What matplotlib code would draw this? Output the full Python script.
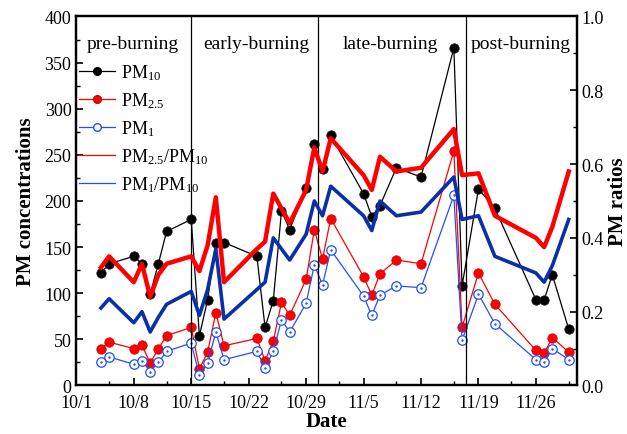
import matplotlib
matplotlib.use("Agg")
from matplotlib import pyplot as plt
from matplotlib.lines import Line2D
from matplotlib.ticker import MultipleLocator, FuncFormatter
import pandas as pd

plt.rcParams['font.family'] = ['Liberation Serif', 'DejaVu Serif']
plt.rcParams['mathtext.default'] = 'regular'

# sampling dates (month/day)
dates = ['10/4', '10/5', '10/8', '10/9', '10/10', '10/11', '10/12', '10/15', '10/16',
         '10/17', '10/18', '10/19', '10/23', '10/24', '10/25', '10/26', '10/27', '10/29',
         '10/30', '10/31', '11/1', '11/5', '11/6', '11/7', '11/9', '11/12', '11/16',
         '11/17', '11/19', '11/21', '11/26', '11/27', '11/28', '11/30']

pm10 = [122, 132, 140, 132, 99, 132, 167, 180, 54, 93, 155, 155, 140, 63, 92, 189, 169,
        214, 262, 235, 271, 208, 183, 195, 236, 226, 366, 108, 213, 192, 93, 93, 120, 61]
pm25 = [40, 47, 40, 44, 24, 40, 54, 63, 18, 36, 79, 43, 51, 27, 48, 90, 76,
        115, 169, 137, 181, 118, 98, 121, 136, 132, 254, 63, 122, 88, 38, 35, 52, 36]
pm1 = [26, 31, 23, 27, 15, 25, 37, 46, 11, 24, 58, 28, 37, 19, 37, 71, 58,
       89, 131, 109, 147, 97, 76, 98, 108, 106, 206, 49, 99, 67, 28, 26, 40, 28]
ratio25 = [0.32, 0.35, 0.28, 0.33, 0.24, 0.30, 0.33, 0.35, 0.31, 0.38, 0.51, 0.28, 0.37,
           0.39, 0.52, 0.48, 0.44, 0.53, 0.645, 0.58, 0.67, 0.57, 0.53, 0.62, 0.58, 0.59,
           0.695, 0.57, 0.575, 0.46, 0.40, 0.375, 0.43, 0.58]
ratio1 = [0.21, 0.235, 0.17, 0.20, 0.145, 0.185, 0.22, 0.255, 0.19, 0.26, 0.37, 0.18, 0.26,
          0.28, 0.40, 0.37, 0.34, 0.41, 0.50, 0.46, 0.54, 0.46, 0.42, 0.50, 0.46, 0.47,
          0.565, 0.45, 0.46, 0.35, 0.305, 0.28, 0.325, 0.45]

phase_names = ['pre-burning', 'early-burning', 'late-burning', 'post-burning']
phase_bounds = ['2014-10-15', '2014-10-30 12:00', '2014-11-17 12:00']

x = pd.to_datetime(['2014/' + d for d in dates])
start = pd.Timestamp('2014-10-01')
end = pd.Timestamp('2014-12-01')

fig = plt.figure(figsize=(6.27, 4.35), dpi=100)
ax = fig.add_axes([0.1217, 0.1115, 0.7985, 0.8483])
ax2 = ax.twinx()

ax.plot(x, pm10, '-o', color='black', lw=0.9, ms=6.8, mfc='black', mec='#222222', mew=0.5)
ax.plot(x, pm25, '-o', color='red', lw=0.9, ms=6.8, mfc='red', mec='#d00000', mew=0.5)
ax.plot(x, pm1, '-o', color='#1f4fff', lw=0.9, ms=6.8, mfc='white', mec='#1f4fff', mew=0.9)
ax.plot(x, pm1, '.', color='#1f4fff', ms=1.5)

ax2.plot(x, ratio25, '-', color='red', lw=3.2)
ax2.plot(x, ratio1, '-', color='#0a2fa8', lw=2.6)

for b in phase_bounds:
    ax.axvline(pd.Timestamp(b), color='black', lw=0.9)

phase_x = [start + pd.Timedelta(days=d) for d in [6.9, 21.9, 38.3, 54.1]]
for px, name in zip(phase_x, phase_names):
    ax.text(px, 371, name, ha='center', va='center', fontsize=14)

ax.set_xlim(start, end)
ax.set_ylim(0, 400)
ax2.set_ylim(0, 1.0)

ax.set_xticks(pd.date_range(start, periods=9, freq='7D'))
ax.set_xticks(pd.date_range(start + pd.Timedelta(days=4), periods=9, freq='7D'), minor=True)
ax.xaxis.set_major_formatter(FuncFormatter(
    lambda v, pos: '%d/%d' % (matplotlib.dates.num2date(v).month, matplotlib.dates.num2date(v).day)))
ax.yaxis.set_major_locator(MultipleLocator(50))
ax.yaxis.set_minor_locator(MultipleLocator(25))
ax2.yaxis.set_major_locator(MultipleLocator(0.2))
ax2.yaxis.set_minor_locator(MultipleLocator(0.1))
ax2.yaxis.set_major_formatter(FuncFormatter(lambda v, pos: '%.1f' % v))

for a in (ax, ax2):
    a.tick_params(which='both', direction='in', labelsize=13, top=False)
    a.tick_params(which='major', length=5, width=1.2)
    a.tick_params(which='minor', length=3, width=1.0)
    for s in a.spines.values():
        s.set_linewidth(1.6)
ax.tick_params(axis='y', which='both', right=False)
ax.tick_params(axis='x', pad=6)

ax.set_xlabel('Date', fontsize=15, fontweight='bold', labelpad=0)
ax.set_ylabel('PM concentrations', fontsize=15, fontweight='bold', labelpad=6)
ax2.set_ylabel('PM ratios', fontsize=15, fontweight='bold', labelpad=3)

handles = [
    Line2D([], [], color='black', lw=0.9, marker='o', ms=5.5, mfc='black', mec='black'),
    Line2D([], [], color='red', lw=0.9, marker='o', ms=5.5, mfc='red', mec='#d00000'),
    Line2D([], [], color='#1f4fff', lw=0.9, marker='o', ms=5.5, mfc='white', mec='#1f4fff'),
    Line2D([], [], color='red', lw=0.9),
    Line2D([], [], color='#1f4fff', lw=0.9),
]
labels = ['PM$_{10}$', 'PM$_{2.5}$', 'PM$_{1}$', 'PM$_{2.5}$/PM$_{10}$', 'PM$_{1}$/PM$_{10}$']
ax2.legend(handles, labels, loc='upper left', bbox_to_anchor=(0.006, 0.875), frameon=False,
           fontsize=13, borderpad=0, borderaxespad=0, handlelength=2.0, handletextpad=0.3,
           labelspacing=0.45)

plt.savefig('out.png', dpi=100)
